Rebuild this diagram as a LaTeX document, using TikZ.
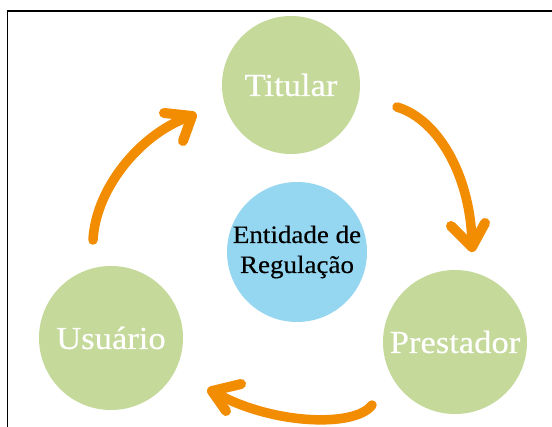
\documentclass[tikz,border=0pt]{standalone}
\usepackage{fontspec}
\setmainfont[FakeStretch=1.08, FakeBold=0.4]{Liberation Serif}
\usetikzlibrary{arrows.meta}
\definecolor{cgreen}{HTML}{C5D99B}
\definecolor{cblue}{HTML}{95D6F0}
\definecolor{corange}{HTML}{F28C00}
\tikzset{
  actor/.style={circle, fill=cgreen, text=white, inner sep=0pt,
    font=\fontsize{32}{36}\selectfont},
  regbox/.style={circle, fill=cblue, text=black, inner sep=0pt, align=center,
    font=\fontsize{25}{30}\selectfont},
  shaft/.style={draw=corange, line width=9.5pt, line cap=round},
  barb/.style={draw=corange, line width=10pt, line cap=round, line join=round},
  frame/.style={draw=black, line width=1.5pt}
}
\begin{document}
\begin{tikzpicture}[x=1pt, y={(0pt,-1pt)}]
\useasboundingbox (0,0) rectangle (552,427);
\fill[white] (0,0) rectangle (552,427);
% frame (only left and top edges fall inside the picture)
\coordinate (fbl) at (7.5,427);
\coordinate (ftl) at (7.5,11);
\coordinate (ftr) at (552,11);
\draw[frame] (fbl) -- (ftl) -- (ftr);
% circles
\node[actor, minimum size=138pt] (tit) at (291,85) {\raisebox{-2pt}{Titular}};
\node[regbox, minimum size=140pt] (reg) at (297,252) {Entidade de\\Regulação};
\node[actor, minimum size=144pt] (usu) at (111,338) {Usuário};
\node[actor, minimum size=144pt] (pre) at (455,342) {Prestador};
% arrow Usuario -> Titular
\coordinate (a1s) at (93,240);
\coordinate (a1t) at (192,116);
\coordinate (a1b1) at (164,113);
\coordinate (a1b2) at (183,141);
\draw[shaft] (a1s) .. controls (96,185) and (145,130) .. (a1t);
\draw[barb] (a1b1) -- (a1t) -- (a1b2);
% arrow Titular -> Prestador
\coordinate (a2s) at (397,107);
\coordinate (a2t) at (472,247);
\coordinate (a2b1) at (451,226);
\coordinate (a2b2) at (485,223);
\draw[shaft] (a2s) .. controls (440,120) and (472,180) .. (a2t);
\draw[barb] (a2b1) -- (a2t) -- (a2b2);
% arrow Prestador -> Usuario
\coordinate (a3s) at (372,405);
\coordinate (a3t) at (212,391);
\coordinate (a3b1) at (241,384);
\coordinate (a3b2) at (226,411);
\draw[shaft] (a3s) .. controls (355,428) and (270,425) .. (a3t);
\draw[barb] (a3b1) -- (a3t) -- (a3b2);
\end{tikzpicture}
\end{document}
